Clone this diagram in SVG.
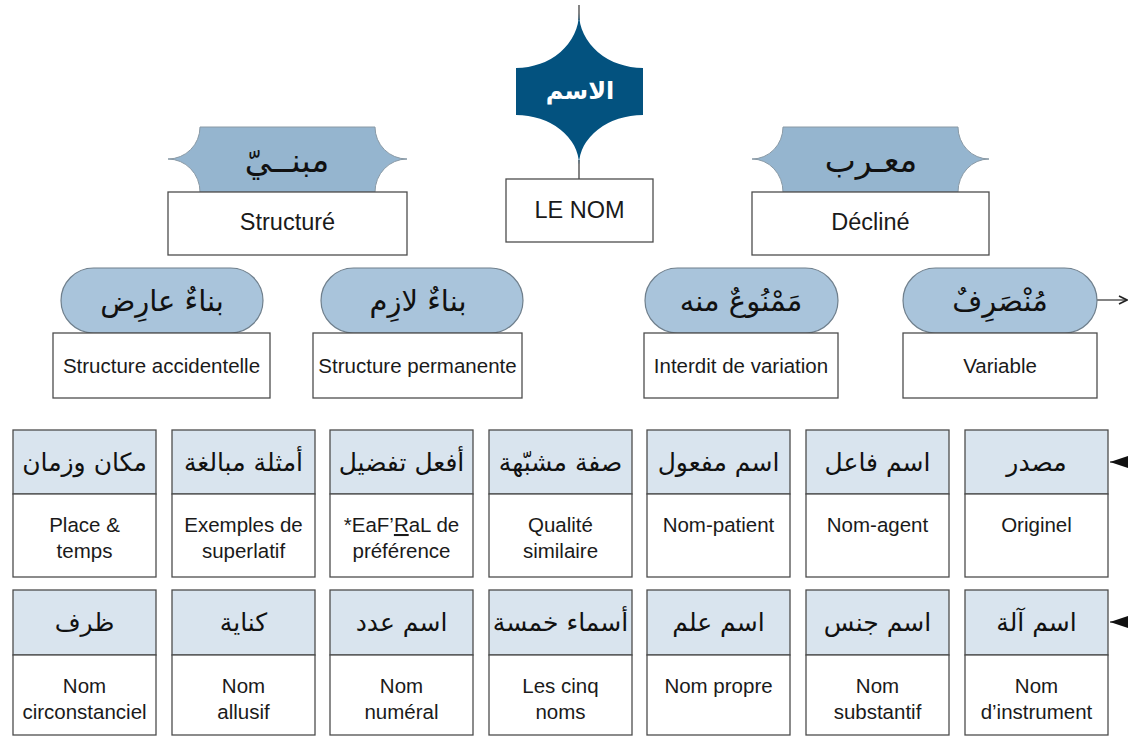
<svg xmlns="http://www.w3.org/2000/svg" width="1128" height="736" viewBox="0 0 1128 736">
  <defs>
    <style>
      .box { fill: #ffffff; stroke: #4d4d4d; stroke-width: 1.3; }
      .hdr { fill: #d9e4ee; stroke: #4d4d4d; stroke-width: 1.3; }
      .pill { fill: #a9c4db; stroke: #6f7f8c; stroke-width: 1.2; }
      .banner { fill: #95b5cf; stroke: #8a9aa6; stroke-width: 1; }
      .root { fill: #03527f; }
      .fr { font-family: "Liberation Sans", Arial, sans-serif; font-size: 20.5px; fill: #1a1a1a; text-anchor: middle; }
      .frl { font-family: "Liberation Sans", Arial, sans-serif; font-size: 23.5px; fill: #1a1a1a; text-anchor: middle; }
      .ar { font-family: "DejaVu Sans", sans-serif; font-size: 25px; fill: #111111; text-anchor: middle; }
      .arp { font-family: "DejaVu Sans", sans-serif; font-size: 29px; fill: #111111; text-anchor: middle; }
      .arl { font-family: "DejaVu Sans", sans-serif; font-size: 33px; fill: #111111; text-anchor: middle; }
      .line { stroke: #333333; stroke-width: 1.2; fill: none; }
    </style>
    <marker id="open" viewBox="0 0 10 10" refX="9" refY="5" markerWidth="10" markerHeight="10" orient="auto" markerUnits="userSpaceOnUse">
      <path d="M1,1 L9,5 L1,9" fill="none" stroke="#222" stroke-width="1.6"/>
    </marker>
    <marker id="solid" viewBox="0 0 18 12" refX="18" refY="6" markerWidth="18" markerHeight="12" orient="auto" markerUnits="userSpaceOnUse">
      <path d="M0,0 L18,6 L0,12 Z" fill="#111"/>
    </marker>
  </defs>

  <!-- connectors -->
  <g id="connectors">
    <line class="line" x1="579" y1="5" x2="579" y2="20"/>
    <line class="line" x1="579" y1="160" x2="579" y2="179"/>
    <line class="line" x1="1097" y1="300" x2="1127" y2="300" marker-end="url(#open)"/>
    <line class="line" x1="1128" y1="462" x2="1110" y2="462" marker-end="url(#solid)"/>
    <line class="line" x1="1128" y1="622" x2="1110" y2="622" marker-end="url(#solid)"/>
  </g>

  <!-- root node -->
  <g id="node-root">
    <path class="root" d="M579,13 A63,55 0 0 1 516,68 L516,115 A63,50 0 0 1 579,165 A64,50 0 0 1 643,115 L643,68 A64,55 0 0 1 579,13 Z"/>
    <text x="580" y="99" font-family="DejaVu Sans, sans-serif" font-size="24" font-weight="bold" fill="#ffffff" text-anchor="middle">الاسم</text>
  </g>
  <g id="node-le-nom">
    <rect class="box" x="506" y="179" width="147" height="63"/>
    <text class="frl" x="579.5" y="218">LE NOM</text>
  </g>

  <!-- level 1 -->
  <g id="node-mabni">
    <path class="banner" d="M200,127 L375,127 A32,32 0 0 0 407,159 A32,33 0 0 0 375,192 L200,192 A32,33 0 0 0 168,159 A32,32 0 0 0 200,127 Z"/>
    <text class="arl" x="287" y="172">مبنــيّ</text>
    <rect class="box" x="168" y="192" width="239" height="63"/>
    <text class="frl" x="287.5" y="230">Structuré</text>
  </g>
  <g id="node-muarab">
    <path class="banner" d="M783,127 L958,127 A31,32 0 0 0 989,159 A31,33 0 0 0 958,192 L783,192 A31,33 0 0 0 752,159 A31,32 0 0 0 783,127 Z"/>
    <text class="arl" x="871" y="172">معـرب</text>
    <rect class="box" x="752" y="192" width="237" height="63"/>
    <text class="frl" x="870.5" y="230">Décliné</text>
  </g>

  <!-- level 2 -->
  <g id="node-binaa-arid">
    <rect class="pill" x="61" y="268" width="202" height="65" rx="32.5"/>
    <text class="arp" x="162" y="311">بناءٌ عارِض</text>
    <rect class="box" x="53" y="333" width="217" height="65"/>
    <text class="fr" x="161.5" y="373">Structure accidentelle</text>
  </g>
  <g id="node-binaa-lazim">
    <rect class="pill" x="321" y="268" width="202" height="65" rx="32.5"/>
    <text class="arp" x="418" y="311">بناءٌ لازِم</text>
    <rect class="box" x="313" y="333" width="209" height="65"/>
    <text class="fr" x="417.5" y="373">Structure permanente</text>
  </g>
  <g id="node-mamnu">
    <rect class="pill" x="645" y="268" width="193" height="65" rx="32.5"/>
    <text class="arp" x="741" y="311">مَمْنُوعٌ منه</text>
    <rect class="box" x="644" y="333" width="194" height="65"/>
    <text class="fr" x="741" y="373">Interdit de variation</text>
  </g>
  <g id="node-munsarif">
    <rect class="pill" x="903" y="268" width="194" height="65" rx="32.5"/>
    <text class="arp" x="1000" y="311">مُنْصَرِفٌ</text>
    <rect class="box" x="903" y="333" width="194" height="65"/>
    <text class="fr" x="1000" y="373">Variable</text>
  </g>

  <!-- grid, row 1 -->
  <g id="cell-makan">
    <rect class="hdr" x="13" y="430" width="143" height="64"/>
    <text class="ar" x="84.5" y="471">مكان وزمان</text>
    <rect class="box" x="13" y="494" width="143" height="83"/>
    <text class="fr" x="84.5" y="532">Place &amp;</text>
    <text class="fr" x="84.5" y="558">temps</text>
  </g>
  <g id="cell-amthila">
    <rect class="hdr" x="172" y="430" width="143" height="64"/>
    <text class="ar" x="243.5" y="471">أمثلة مبالغة</text>
    <rect class="box" x="172" y="494" width="143" height="83"/>
    <text class="fr" x="243.5" y="532">Exemples de</text>
    <text class="fr" x="243.5" y="558">superlatif</text>
  </g>
  <g id="cell-afal">
    <rect class="hdr" x="330" y="430" width="143" height="64"/>
    <text class="ar" x="401.5" y="471">أفعل تفضيل</text>
    <rect class="box" x="330" y="494" width="143" height="83"/>
    <text class="fr" x="401.5" y="532">*EaF’<tspan text-decoration="underline">R</tspan>aL de</text>
    <text class="fr" x="401.5" y="558">préférence</text>
  </g>
  <g id="cell-sifa">
    <rect class="hdr" x="489" y="430" width="143" height="64"/>
    <text class="ar" x="560.5" y="471">صفة مشبّهة</text>
    <rect class="box" x="489" y="494" width="143" height="83"/>
    <text class="fr" x="560.5" y="532">Qualité</text>
    <text class="fr" x="560.5" y="558">similaire</text>
  </g>
  <g id="cell-maful">
    <rect class="hdr" x="647" y="430" width="143" height="64"/>
    <text class="ar" x="718.5" y="471">اسم مفعول</text>
    <rect class="box" x="647" y="494" width="143" height="83"/>
    <text class="fr" x="718.5" y="532">Nom-patient</text>
  </g>
  <g id="cell-fail">
    <rect class="hdr" x="806" y="430" width="143" height="64"/>
    <text class="ar" x="877.5" y="471">اسم فاعل</text>
    <rect class="box" x="806" y="494" width="143" height="83"/>
    <text class="fr" x="877.5" y="532">Nom-agent</text>
  </g>
  <g id="cell-masdar">
    <rect class="hdr" x="965" y="430" width="143" height="64"/>
    <text class="ar" x="1036.5" y="471">مصدر</text>
    <rect class="box" x="965" y="494" width="143" height="83"/>
    <text class="fr" x="1036.5" y="532">Originel</text>
  </g>

  <!-- grid, row 2 -->
  <g id="cell-zarf">
    <rect class="hdr" x="13" y="590" width="143" height="65"/>
    <text class="ar" x="84.5" y="631">ظرف</text>
    <rect class="box" x="13" y="655" width="143" height="80"/>
    <text class="fr" x="84.5" y="693">Nom</text>
    <text class="fr" x="84.5" y="719">circonstanciel</text>
  </g>
  <g id="cell-kinaya">
    <rect class="hdr" x="172" y="590" width="143" height="65"/>
    <text class="ar" x="243.5" y="631">كناية</text>
    <rect class="box" x="172" y="655" width="143" height="80"/>
    <text class="fr" x="243.5" y="693">Nom</text>
    <text class="fr" x="243.5" y="719">allusif</text>
  </g>
  <g id="cell-adad">
    <rect class="hdr" x="330" y="590" width="143" height="65"/>
    <text class="ar" x="401.5" y="631">اسم عدد</text>
    <rect class="box" x="330" y="655" width="143" height="80"/>
    <text class="fr" x="401.5" y="693">Nom</text>
    <text class="fr" x="401.5" y="719">numéral</text>
  </g>
  <g id="cell-khamsa">
    <rect class="hdr" x="489" y="590" width="143" height="65"/>
    <text class="ar" x="560.5" y="631">أسماء خمسة</text>
    <rect class="box" x="489" y="655" width="143" height="80"/>
    <text class="fr" x="560.5" y="693">Les cinq</text>
    <text class="fr" x="560.5" y="719">noms</text>
  </g>
  <g id="cell-alam">
    <rect class="hdr" x="647" y="590" width="143" height="65"/>
    <text class="ar" x="718.5" y="631">اسم علم</text>
    <rect class="box" x="647" y="655" width="143" height="80"/>
    <text class="fr" x="718.5" y="693">Nom propre</text>
  </g>
  <g id="cell-jins">
    <rect class="hdr" x="806" y="590" width="143" height="65"/>
    <text class="ar" x="877.5" y="631">اسم جنس</text>
    <rect class="box" x="806" y="655" width="143" height="80"/>
    <text class="fr" x="877.5" y="693">Nom</text>
    <text class="fr" x="877.5" y="719">substantif</text>
  </g>
  <g id="cell-ala">
    <rect class="hdr" x="965" y="590" width="143" height="65"/>
    <text class="ar" x="1036.5" y="631">اسم آلة</text>
    <rect class="box" x="965" y="655" width="143" height="80"/>
    <text class="fr" x="1036.5" y="693">Nom</text>
    <text class="fr" x="1036.5" y="719">d’instrument</text>
  </g>
</svg>
